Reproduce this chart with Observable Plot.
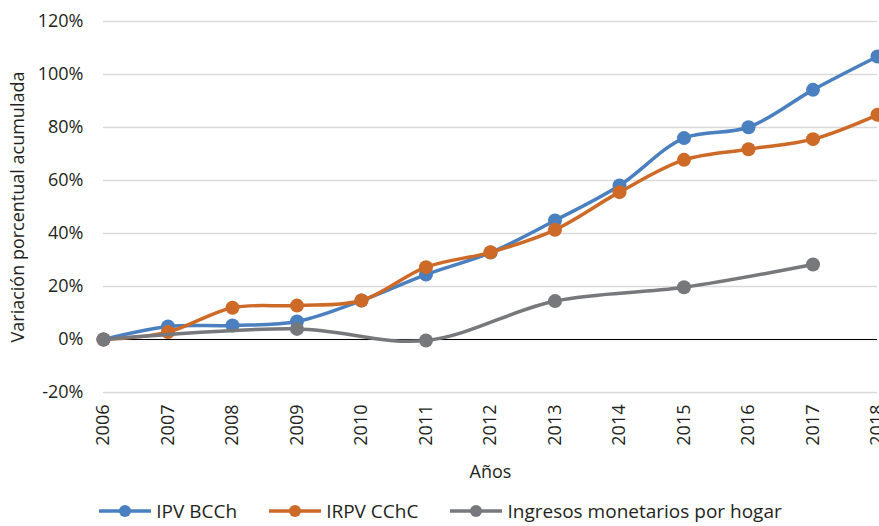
<!DOCTYPE html>
<html>
<head>
<meta charset="utf-8">
<script src="https://cdn.jsdelivr.net/npm/d3@7"></script>
<script src="https://cdn.jsdelivr.net/npm/@observablehq/plot@0.6"></script>
<style>
  html, body { margin: 0; padding: 0; background: #fff; }
  body { width: 879px; height: 526px; overflow: hidden; font-family: "Open Sans", "Noto Sans", sans-serif; color: #231f20; }
  #legend { display: flex; justify-content: center; align-items: center; gap: 32px; font-size: 19px; line-height: 22px; height: 22px; margin-top: 15px; margin-left: 2px; }
  #legend .item { display: flex; align-items: center; gap: 5px; }
</style>
</head>
<body>
<div id="chart"></div>
<div id="legend"></div>
<script>
const years = [2006, 2007, 2008, 2009, 2010, 2011, 2012, 2013, 2014, 2015, 2016, 2017, 2018];
const ipvBCCh = [0, 4.9, 5.3, 6.8, 14.7, 24.5, 32.8, 44.9, 58.1, 76.0, 80.1, 94.2, 106.8];
const irpvCChC = [0, 2.8, 12.0, 12.8, 14.7, 27.3, 32.9, 41.4, 55.6, 67.8, 71.8, 75.6, 84.8];
const ingresosYears = [2006, 2009, 2011, 2013, 2015, 2017];
const ingresos = [0, 4.0, -0.4, 14.5, 19.7, 28.3];
const yTicks = [-20, 0, 20, 40, 60, 80, 100, 120];
const seriesNames = ["IPV BCCh", "IRPV CChC", "Ingresos monetarios por hogar"];
const seriesColors = ["#4a80c0", "#cd6a27", "#77787b"];

const rows = [
  ...years.map((y, i) => ({year: y, value: ipvBCCh[i], serie: seriesNames[0]})),
  ...years.map((y, i) => ({year: y, value: irpvCChC[i], serie: seriesNames[1]})),
  ...ingresosYears.map((y, i) => ({year: y, value: ingresos[i], serie: seriesNames[2]}))
];

const marks = [
  Plot.gridY(yTicks, {stroke: "#d9d9d9", strokeOpacity: 1, strokeWidth: 1.5}),
  Plot.ruleY([0], {stroke: "#000", strokeWidth: 1}),
  Plot.axisY(yTicks, {tickSize: 0, tickPadding: 20, tickFormat: d => d + "%", label: "Variación porcentual acumulada", labelAnchor: "center", labelOffset: 92, labelArrow: "none", fontSize: 18}),
  Plot.axisX(years, {tickSize: 0, tickPadding: 12, tickRotate: -90, tickFormat: d => String(d), label: "Años", labelAnchor: "center", labelOffset: 85, labelArrow: "none", fontSize: 18})
];
seriesNames.forEach((name, k) => {
  const data = rows.filter(r => r.serie === name);
  marks.push(Plot.line(data, {x: "year", y: "value", stroke: seriesColors[k], strokeWidth: 3.5, curve: "catmull-rom"}));
  marks.push(Plot.dot(data, {x: "year", y: "value", fill: seriesColors[k], r: 7}));
});

const chart = Plot.plot({
  width: 879,
  height: 485,
  marginLeft: 103,
  marginRight: 2,
  marginTop: 21,
  marginBottom: 93,
  style: {fontFamily: "'Open Sans', 'Noto Sans', sans-serif", fontSize: "18px", color: "#231f20", background: "#fff"},
  x: {type: "linear", domain: [2006, 2018]},
  y: {domain: [-20, 120]},
  marks
});
document.getElementById("chart").appendChild(chart);

const legend = document.getElementById("legend");
seriesNames.forEach((name, k) => {
  const item = document.createElement("div");
  item.className = "item";
  item.innerHTML = `<svg width="52" height="16"><line x1="0" y1="8" x2="52" y2="8" stroke="${seriesColors[k]}" stroke-width="3.5"/><circle cx="26" cy="8" r="6" fill="${seriesColors[k]}"/></svg><span>${name}</span>`;
  legend.appendChild(item);
});
</script>
</body>
</html>
